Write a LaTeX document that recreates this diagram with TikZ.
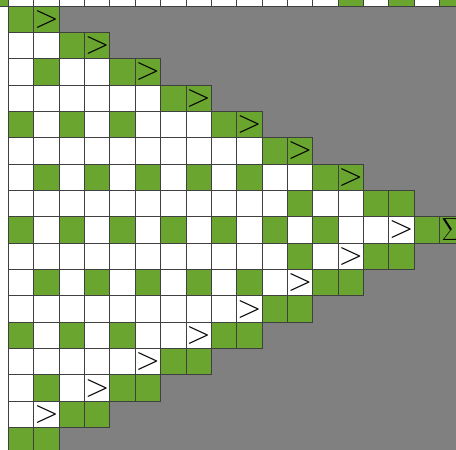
\documentclass[tikz,border=0pt]{standalone}
\usepackage{fontspec}
\usepackage{tikz}
\definecolor{cellgreen}{RGB}{106,165,48}
\definecolor{voidgray}{RGB}{128,128,128}

\begin{document}
\begin{tikzpicture}[
  x=1pt, y=-1pt,
  cell/.style={draw=black!75, line width=0.9pt, minimum width=25.35pt, minimum height=26.35pt,
    inner sep=0pt, font=\fontsize{32}{34}\selectfont, node contents={}},
  wcell/.style={cell, fill=white},
  gcell/.style={cell, fill=cellgreen},
  Gcell/.style={gcell, node contents={>}},
  Vcell/.style={wcell, node contents={>}},
  Scell/.style={gcell, node contents={Σ}}
]
\useasboundingbox (0,0) rectangle (456,450);
\clip (0,0) rectangle (456,450);
\fill[voidgray] (8.5,6) rectangle (456,450);
% partial row along the top edge
\node[gcell, name=top-left, at={({8.5-25.35*0.5},{6-26.35*0.5})}];
\foreach \t [count=\c from 0] in {w,w,w,w,w,w,w,w,w,w,w,w,w,g,w,g,w,g}
  \node[\t cell, name=top-\c, at={({8.5+25.35*(\c+0.5)},{6-26.35*0.5})}];
% triangle, row by row
\foreach \row/\cells in {0/{g,G}, 1/{w,w,g,G}, 2/{w,g,w,w,g,G}, 3/{w,w,w,w,w,w,g,G},
    4/{g,w,g,w,g,w,w,w,g,G}, 5/{w,w,w,w,w,w,w,w,w,w,g,G},
    6/{w,g,w,g,w,g,w,g,w,g,w,w,g,G}, 7/{w,w,w,w,w,w,w,w,w,w,w,g,w,w,g,g},
    8/{g,w,g,w,g,w,g,w,g,w,g,w,g,w,w,V,g,S},
    9/{w,w,w,w,w,w,w,w,w,w,w,g,w,V,g,g}, 10/{w,g,w,g,w,g,w,g,w,g,w,V,g,g},
    11/{w,w,w,w,w,w,w,w,w,V,g,g}, 12/{g,w,g,w,g,w,w,V,g,g},
    13/{w,w,w,w,w,V,g,g}, 14/{w,g,w,V,g,g}, 15/{w,V,g,g}, 16/{g,g}}
  \foreach \t [count=\c from 0] in \cells
    \node[\t cell, name=c\row-\c, at={({8.5+25.35*(\c+0.5)},{6+26.35*(\row+0.5)})}];
\end{tikzpicture}
\end{document}
